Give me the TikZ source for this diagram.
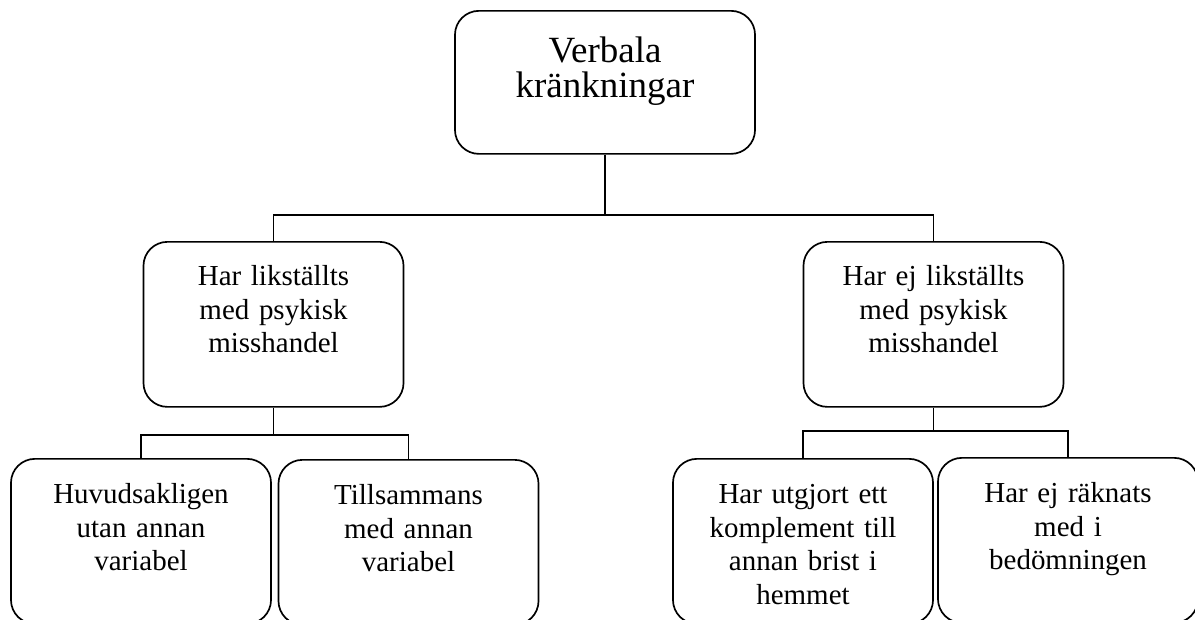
\documentclass[tikz,border=0pt]{standalone}
\usepackage{fontspec}
\setmainfont{Liberation Serif}
\usepackage{tikz}

\begin{document}
\begin{tikzpicture}[x=0.025cm, y=-0.025cm, line width=1.2pt,
  box/.style={draw, rounded corners=0.6cm, anchor=north, align=center, inner sep=0pt,
    text width=6.5cm, font=\fontsize{20.6}{23.8}\selectfont, text height=1.1cm, text depth=3.025cm},
  topbox/.style={box, text width=7.5cm, font=\fontsize{26.3}{24.9}\selectfont, text height=1.3cm, text depth=2.275cm},
  leafbox/.style={box, text height=1.125cm, text depth=3cm}]
  \clip (0,0) rectangle (1195,619);
  \node[topbox] (verb) at (605,10) {Verbala\\kränkningar};

  \node[box] (lik) at (273.5,241) {Har likställts\\med psykisk\\misshandel};
  \node[box] (ejlik) at (933.5,241) {Har ej likställts\\med psykisk\\misshandel};

  \node[leafbox] (huvud) at (141,458) {Huvudsakligen\\utan annan\\variabel};
  \node[leafbox] (tills) at (408.5,459) {Tillsammans\\med annan\\variabel};
  \node[leafbox] (utgj) at (803,458) {Har utgjort ett\\komplement till\\annan brist i\\hemmet};
  \node[leafbox] (rak) at (1068,457) {Har ej räknats\\med i\\bedömningen};

  \draw (verb.south) -- ++(0,60) coordinate (j0);
  \draw (lik.north) |- (j0) -| (ejlik.north);
  \draw (lik.south) -- ++(0,27) coordinate (j1);
  \draw (huvud.north) |- (j1) -| (tills.north);
  \draw (ejlik.south) -- ++(0,23) coordinate (j2);
  \draw (utgj.north) |- (j2) -| (rak.north);
\end{tikzpicture}
\end{document}
